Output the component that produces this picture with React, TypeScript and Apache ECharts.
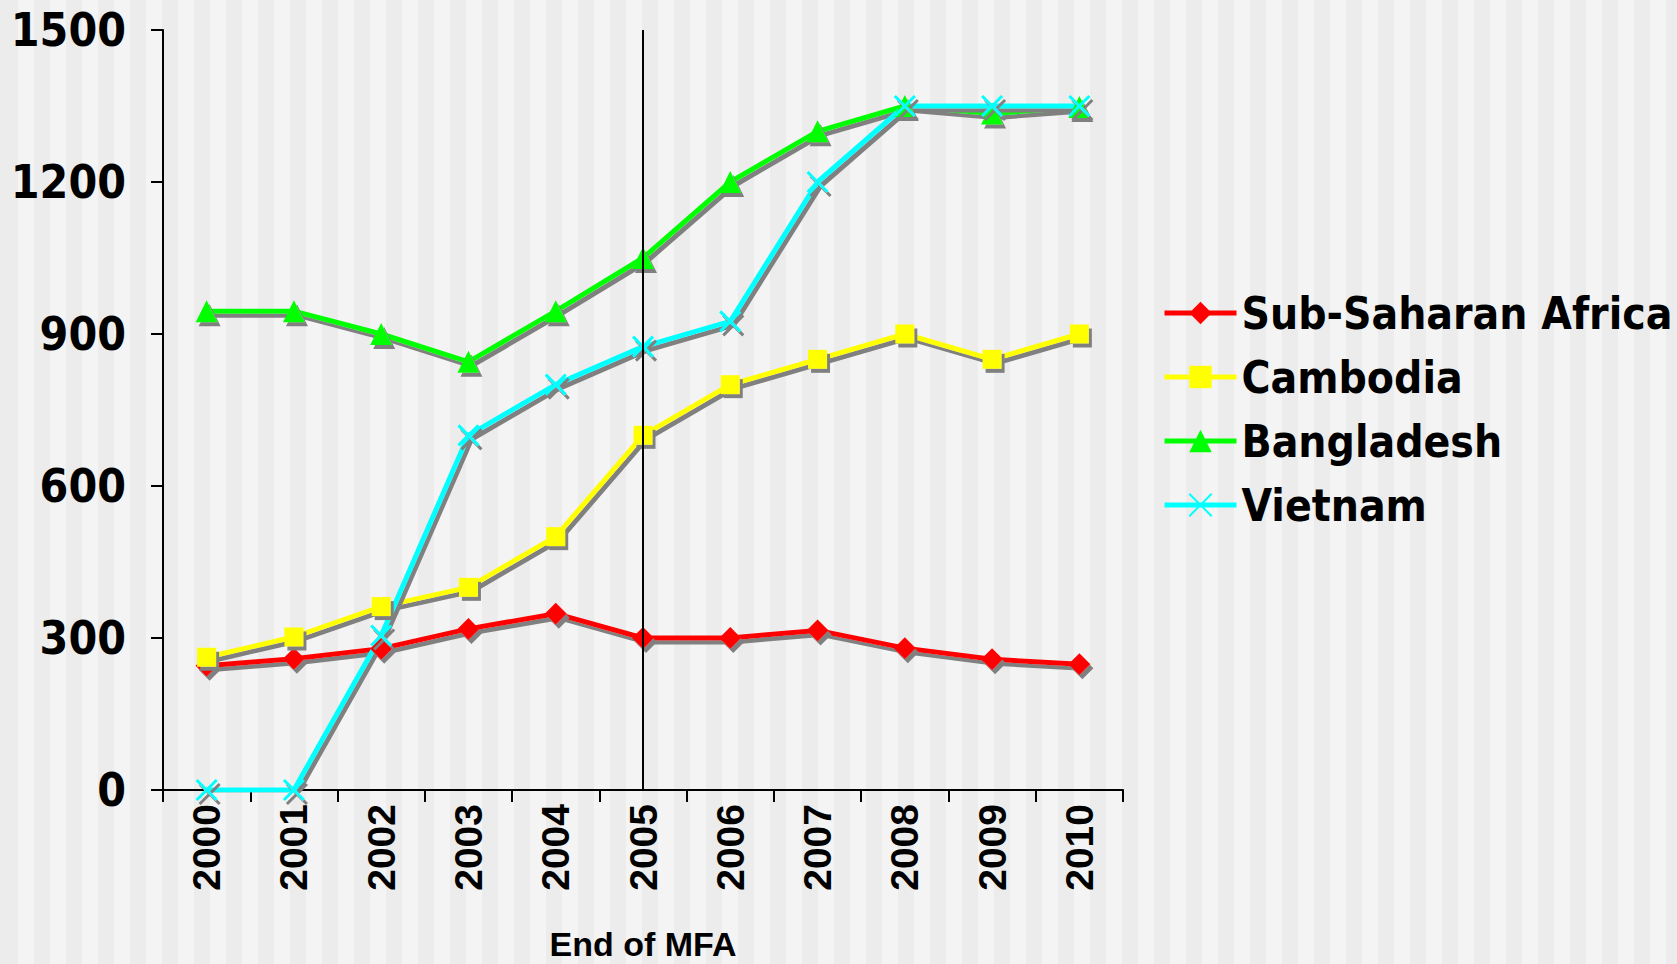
import React, { useEffect, useRef } from 'react';
import * as echarts from 'echarts';

const years = ['2000', '2001', '2002', '2003', '2004', '2005', '2006', '2007', '2008', '2009', '2010'];
const subSaharanAfrica = [245, 259, 279, 318, 348, 300, 300, 315, 280, 258, 248];
const cambodia = [262, 302, 362, 400, 500, 700, 800, 850, 900, 850, 900];
const bangladesh = [945, 945, 900, 845, 945, 1050, 1200, 1300, 1350, 1335, 1348];
const vietnam = [0, 0, 305, 700, 800, 875, 925, 1200, 1350, 1350, 1350];
const yMin = 0;
const yMax = 1500;
const yInterval = 300;
const mfaEndYear = '2005';
const mfaLabel = 'End of MFA';

const seriesNames = ['Sub-Saharan Africa', 'Cambodia', 'Bangladesh', 'Vietnam'];
const seriesColors = ['#ff0000', '#ffff00', '#00ff00', '#00ffff'];

const crossPath = 'path://M0,0L10,10M10,0L0,10';

export default function App() {
  const ref = useRef<HTMLDivElement>(null);
  useEffect(() => {
    document.body.style.margin = '0';
    if (!ref.current) return;
    const chart = echarts.init(ref.current, null, { renderer: 'svg' });
    const shadow = { shadowColor: '#808080', shadowBlur: 0, shadowOffsetX: 3, shadowOffsetY: 4 };
    const mk = (name: string, data: number[], color: string, symbol: string, symbolSize: number, extra: any = {}) => ({
      name,
      type: 'line',
      data,
      color,
      symbol,
      symbolSize,
      showAllSymbol: true,
      lineStyle: { width: 5, color, ...shadow },
      itemStyle: { color, ...shadow, ...(extra.itemStyle || {}) },
      emphasis: { disabled: true },
      ...(extra.rest || {}),
    });
    chart.setOption({
      animation: false,
      backgroundColor: 'transparent',
      grid: { left: 163, right: 554, top: 30, bottom: 174, containLabel: false },
      legend: {
        orient: 'vertical',
        left: 1157,
        top: 286,
        itemWidth: 72,
        itemHeight: 28,
        itemGap: 20,
        data: seriesNames,
        lineStyle: { width: 5 },
        textStyle: {
          fontFamily: '"DejaVu Sans Condensed", "DejaVu Sans", sans-serif',
          fontWeight: 'bold',
          fontSize: 44,
          lineHeight: 44,
          color: '#000',
        },
      },
      xAxis: {
        type: 'category',
        data: years,
        boundaryGap: true,
        axisLine: { lineStyle: { color: '#000', width: 2 } },
        axisTick: { show: true, interval: 0, length: 12, lineStyle: { color: '#000', width: 2 } },
        axisLabel: {
          interval: 0,
          rotate: 90,
          margin: 14,
          color: '#000',
          fontFamily: '"Liberation Sans", Arial, sans-serif',
          fontWeight: 'bold',
          fontSize: 39,
        },
        splitLine: { show: false },
      },
      yAxis: {
        type: 'value',
        min: yMin,
        max: yMax,
        interval: yInterval,
        axisLine: { show: true, lineStyle: { color: '#000', width: 2 } },
        axisTick: { show: true, length: 12, lineStyle: { color: '#000', width: 2 } },
        axisLabel: {
          margin: 37,
          color: '#000',
          formatter: (v: number) => String(v),
          fontFamily: '"DejaVu Sans Condensed", "DejaVu Sans", sans-serif',
          fontWeight: 'bold',
          fontSize: 46,
        },
        splitLine: { show: false },
      },
      series: [
        mk(seriesNames[0], subSaharanAfrica, seriesColors[0], 'diamond', 22, {
          rest: {
            markLine: {
              silent: true,
              symbol: ['none', 'none'],
              lineStyle: { color: '#000', width: 2, type: 'solid', shadowBlur: 0, shadowOffsetX: 0, shadowOffsetY: 0 },
              label: {
                show: true,
                position: 'start',
                distance: 139,
                formatter: mfaLabel,
                color: '#000',
                fontFamily: '"Liberation Sans", Arial, sans-serif',
                fontWeight: 'bold',
                fontSize: 34,
                lineHeight: 30,
              },
              emphasis: { disabled: true },
              data: [{ xAxis: mfaEndYear }],
            },
          },
        }),
        mk(seriesNames[1], cambodia, seriesColors[1], 'rect', 19),
        mk(seriesNames[2], bangladesh, seriesColors[2], 'triangle', 22),
        mk(seriesNames[3], vietnam, seriesColors[3], crossPath, 20, {
          itemStyle: { borderColor: seriesColors[3], borderWidth: 3 },
        }),
      ],
    });
    return () => chart.dispose();
  }, []);
  return (
    <div
      ref={ref}
      style={{
        width: 1677,
        height: 964,
        background: 'repeating-linear-gradient(90deg, #ececec 0px, #ececec 16px, #f4f4f4 16px, #f4f4f4 32px)',
        backgroundPosition: '2px 0',
      }}
    />
  );
}
